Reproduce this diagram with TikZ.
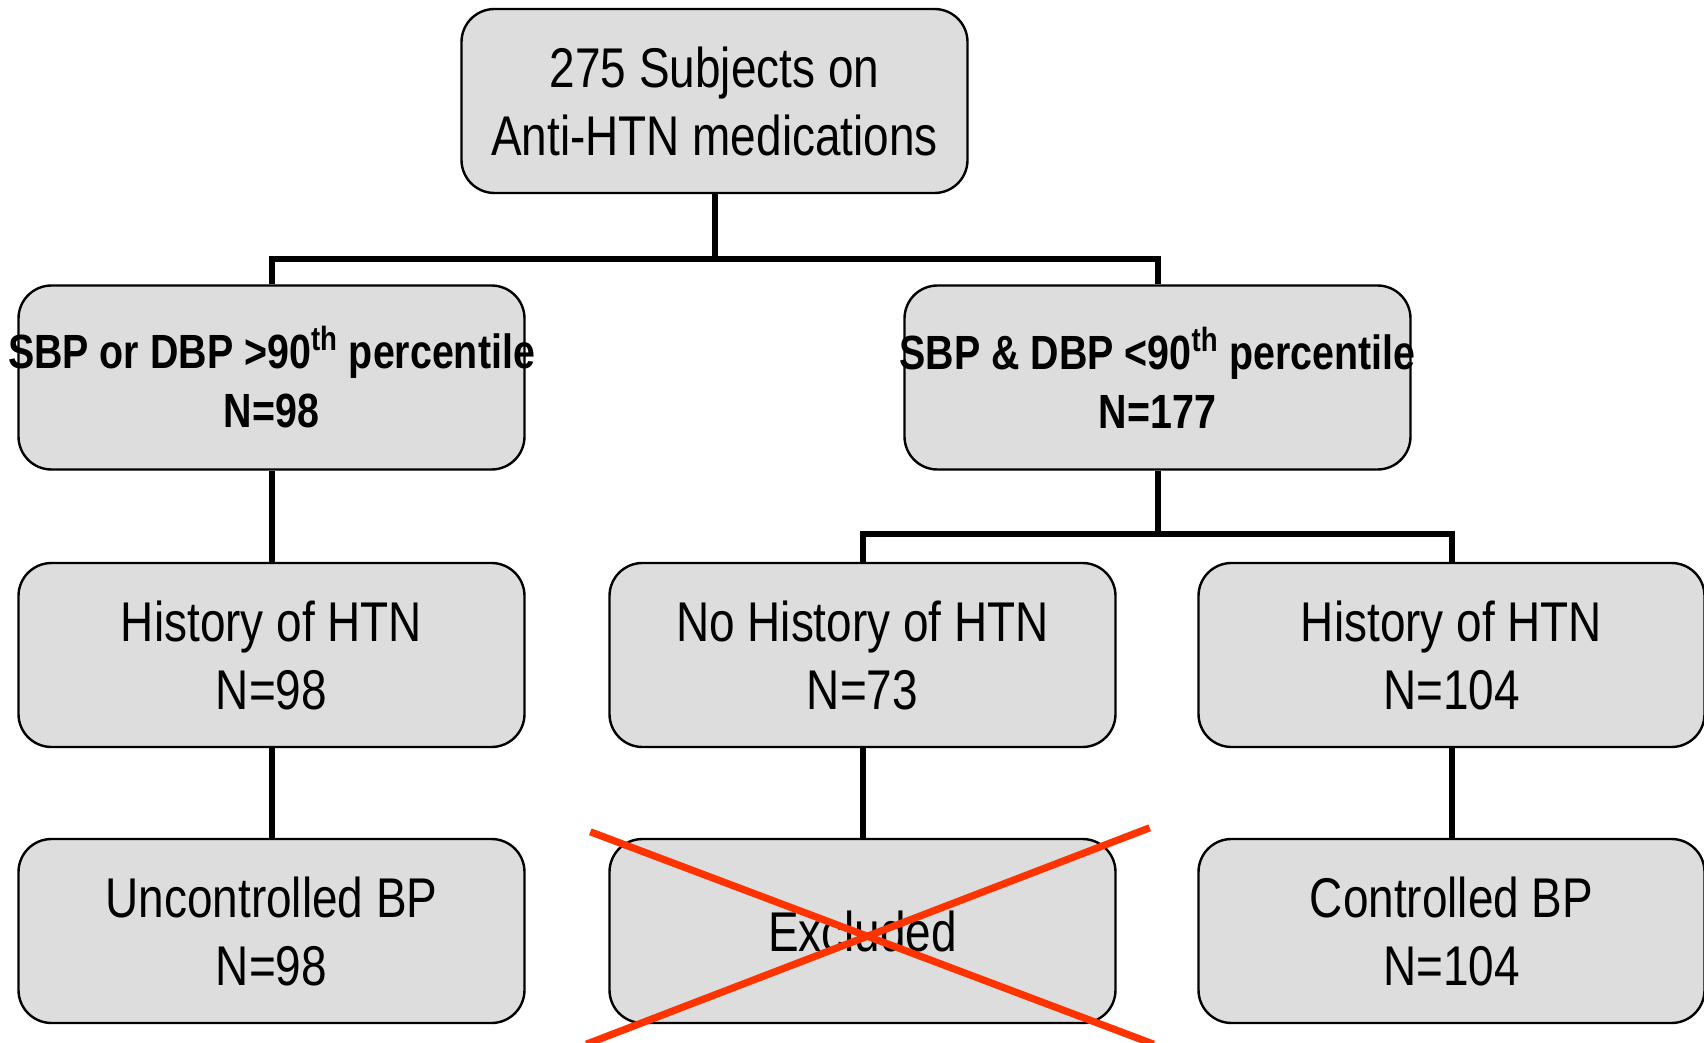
\documentclass[tikz,border=0pt]{standalone}
\usepackage{fontspec}
\setmainfont{Liberation Sans}[FakeStretch=0.82]
\usepackage{tikz}
\usetikzlibrary{calc}
\definecolor{boxgray}{HTML}{DDDDDD}
\definecolor{crossred}{HTML}{FF3300}
\newcommand{\wideline}[1]{\makebox[240pt]{#1}}

\begin{document}
\begin{tikzpicture}[x=0.5pt,y=-0.5pt,
  flowbox/.style={draw=black, line width=1.2pt, fill=boxgray, rounded corners=16.5pt,
    minimum width=253pt, minimum height=92pt, inner sep=0pt, align=center,
    font=\fontsize{28}{34}\selectfont},
  boldbox/.style={flowbox, font=\fontsize{24}{29.5}\selectfont\bfseries},
  link/.style={draw=black, line width=3pt},
  strike/.style={draw=crossred, line width=3.6pt}]
      \useasboundingbox (0,0) rectangle (1704,1043);
      % Start
      \node[flowbox] (start) at (714.5,101) {275 Subjects on\\Anti-HTN medications};
      % Percentile split
      \node[boldbox] (bphigh) at (271.5,377.5) {\wideline{SBP or DBP >90\textsuperscript{th} percentile}\\N=98};
      \node[boldbox] (bplow) at (1157.5,377.5) {\wideline{SBP \& DBP <90\textsuperscript{th} percentile}\\N=177};
      % History of HTN
      \node[flowbox] (histleft) at (271.5,655) {History of HTN\\N=98};
      \node[flowbox] (nohist) at (862.5,655) {No History of HTN\\N=73};
      \node[flowbox] (histright) at (1451.5,655) {History of HTN\\N=104};
      % Outcome
      \node[flowbox] (uncontrolled) at (271.5,931) {Uncontrolled BP\\N=98};
      \node[flowbox] (excluded) at (862.5,931) {Excluded};
      \node[flowbox] (controlled) at (1451.5,931) {Controlled BP\\N=104};
      % Links
      \coordinate (forktop) at (714.5,259);
      \coordinate (forkright) at (1157.5,534);
      \draw[link] (start.south) -- (forktop);
      \draw[link] (bphigh.north) |- (forktop) -| (bplow.north);
      \draw[link] (bplow.south) -- (forkright);
      \draw[link] (nohist.north) |- (forkright) -| (histright.north);
      \draw[link] (bphigh.south) -- (histleft.north);
      \draw[link] (histleft.south) -- (uncontrolled.north);
      \draw[link] (nohist.south) -- (excluded.north);
      \draw[link] (histright.south) -- (controlled.north);
      % Cross over excluded
      \draw[strike] ($(excluded.north west)+(-18,-6)$) -- ($(excluded.south east)+(37,20)$);
      \draw[strike] ($(excluded.south west)+(-22,20)$) -- ($(excluded.north east)+(33,-10)$);
    \end{tikzpicture}
\end{document}
